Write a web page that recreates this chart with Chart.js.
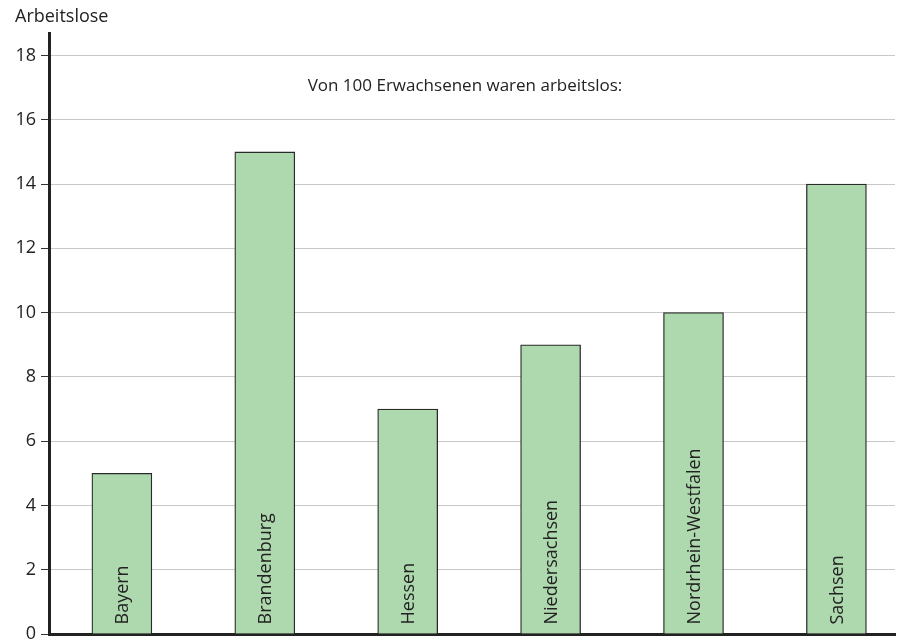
<!DOCTYPE html>
<html>
<head>
<meta charset="utf-8">
<script src="https://cdn.jsdelivr.net/npm/chart.js@4"></script>
<style>
  html, body { margin: 0; padding: 0; background: #fff; }
  #wrap { width: 897px; height: 640px; }
</style>
</head>
<body>
<div id="wrap"><canvas id="barChart"></canvas></div>
<script>
var laender = ['Bayern', 'Brandenburg', 'Hessen', 'Niedersachsen', 'Nordrhein-Westfalen', 'Sachsen'];
var arbeitslose = [5, 15, 7, 9, 10, 14];
var yTicks = [0, 2, 4, 6, 8, 10, 12, 14, 16, 18];

var FONT = '"Open Sans", "Noto Sans", sans-serif';

// Beschriftungen: Achsentitel, Überschrift, Ländernamen in den Balken
var labelPlugin = {
  id: 'labels',
  afterDatasetsDraw: function (chart) {
    var ctx = chart.ctx;
    ctx.save();
    ctx.fillStyle = '#222';
    ctx.textBaseline = 'middle';
    ctx.textAlign = 'left';
    ctx.font = '18px ' + FONT;
    ctx.fillText('Arbeitslose', 15, 17);
    ctx.textAlign = 'center';
    ctx.font = '17px ' + FONT;
    ctx.fillText('Von 100 Erwachsenen waren arbeitslos:', 465, 86);

    ctx.font = '18px ' + FONT;
    var meta = chart.getDatasetMeta(0);
    meta.data.forEach(function (bar, i) {
      ctx.save();
      ctx.translate(bar.x + 1, bar.base - 9);
      ctx.rotate(-Math.PI / 2);
      ctx.textAlign = 'left';
      ctx.textBaseline = 'middle';
      ctx.fillText(laender[i], 0, 0);
      ctx.restore();
    });
    ctx.restore();
  }
};

var ctx = document.getElementById('barChart').getContext('2d');
var myBarChart = new Chart(ctx, {
  type: 'bar',
  data: {
    datasets: [{
      data: arbeitslose.map(function (v, i) { return { x: i, y: v }; }),
      backgroundColor: '#aed9ae',
      borderColor: '#2a2a2a',
      borderWidth: 1.3,
      barThickness: 60,
    }]
  },
  options: {
    responsive: true,
    maintainAspectRatio: false,
    animation: false,
    layout: { padding: { left: 0, top: 33, right: 2, bottom: 6 } },
    plugins: {
      legend: { display: false },
      tooltip: { enabled: false },
    },
    scales: {
      x: {
        type: 'linear',
        offset: false,
        min: -0.51,
        max: 5.41,
        grid: { display: false },
        ticks: { display: false },
        border: { display: true, color: '#222', width: 3 },
        afterFit: function (s) { s.height = 0; },
      },
      y: {
        min: 0,
        max: 18.7,
        afterBuildTicks: function (s) {
          s.ticks = yTicks.map(function (v) { return { value: v }; });
        },
        grid: {
          color: '#c8c8c8',
          lineWidth: 1,
          tickColor: '#333',
          tickLength: 8,
        },
        border: { display: true, color: '#222', width: 3 },
        ticks: {
          color: '#222',
          padding: 5,
          font: { family: FONT, size: 18 },
        },
        afterFit: function (s) {
          s.width = 49;
          s.paddingTop = 0;
          s.paddingBottom = 0;
        },
      }
    }
  },
  plugins: [labelPlugin]
});
</script>
</body>
</html>
